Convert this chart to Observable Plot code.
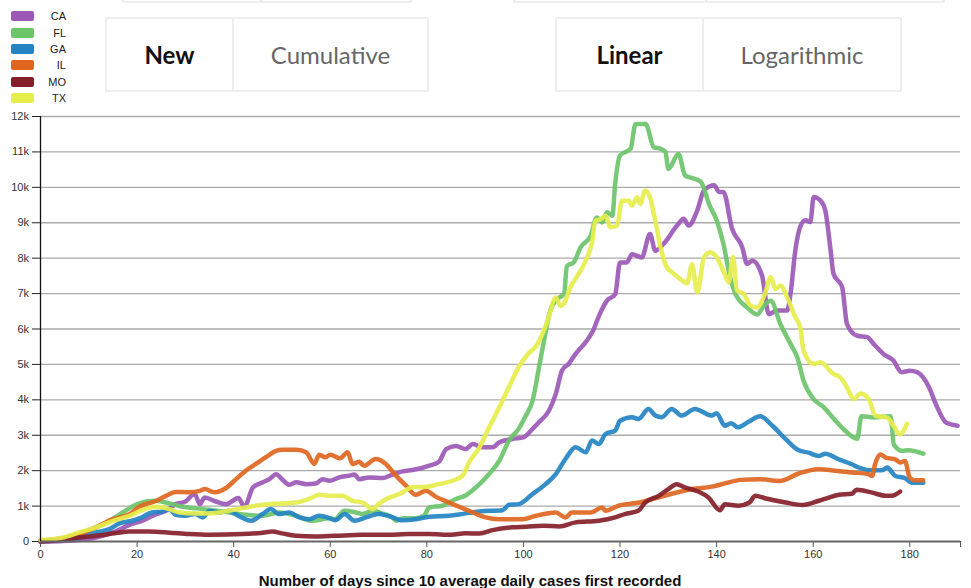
<!DOCTYPE html>
<html>
<head>
<meta charset="utf-8">
<script src="https://cdn.jsdelivr.net/npm/d3@7"></script>
<script src="https://cdn.jsdelivr.net/npm/@observablehq/plot@0.6"></script>
<style>
  html, body { margin: 0; padding: 0; background: #fff; }
  #wrap { position: relative; width: 971px; height: 588px; overflow: hidden; font-family: "Liberation Sans", Arial, sans-serif; }
  #chart { position: absolute; left: 0; top: 0; }
  .legend { position: absolute; left: 11px; top: 8px; font-size: 11px; color: #222; }
  .legend .row { display: flex; align-items: center; height: 16.4px; }
  .legend .sw { width: 23px; height: 10px; border-radius: 2px; }
  .legend .lb { width: 32px; text-align: right; }
  .btns { position: absolute; display: flex; border: 2px solid #eee; box-sizing: border-box; background: #fff; }
  .btns div { display: flex; align-items: center; justify-content: center; font-family: Lato, "Open Sans", sans-serif; font-size: 24px; color: #666; box-sizing: border-box; }
  .btns div.on { font-weight: bold; color: #111; }
  .btns div + div { border-left: 2px solid #eee; }
  .xlabel { position: absolute; top: 572px; left: 0; width: 940px; text-align: center; font-weight: bold; font-size: 15px; line-height: 17px; color: #111; }
</style>
</head>
<body>
<div id="wrap">
  <div id="chart"></div>
  <div class="btns" style="left:122px; top:-40px; width:290px; height:43px;"><div style="width:136px"></div><div style="flex:1"></div></div>
  <div class="btns" style="left:513px; top:-40px; width:432px; height:43px;"><div style="width:190px"></div><div style="flex:1"></div></div>
  <div class="btns" style="left:105px; top:17px; width:324px; height:75px;"><div class="on" style="width:125px">New</div><div style="flex:1">Cumulative</div></div>
  <div class="btns" style="left:555px; top:17px; width:347px; height:75px;"><div class="on" style="width:145px">Linear</div><div style="flex:1">Logarithmic</div></div>
  <div class="legend" id="legend"></div>
  <div class="xlabel">Number of days since 10 average daily cases first recorded</div>
</div>
<script>
const states = ["CA", "FL", "GA", "IL", "MO", "TX"];
const colors = ["#9b59b6", "#6cc46b", "#2484c3", "#e0661f", "#85202a", "#e6ee4c"];
const xTicks = [0, 20, 40, 60, 80, 100, 120, 140, 160, 180];
const xMax = 190.5;
const yTicks = [0, 1000, 2000, 3000, 4000, 5000, 6000, 7000, 8000, 9000, 10000, 11000, 12000];

const CA = [[0,0],[4,10],[8,40],[11.5,110],[15,255],[18.4,470],[21,585],[24,775],[26,870],[28,1055],[30,1130],[31.9,1340],[33,1055],[34,1245],[36.3,1130],[38.4,1055],[41,1225],[42.2,980],[44,1530],[46,1670],[47.4,1760],[48.8,1900],[50,1760],[51.5,1600],[53,1670],[55,1620],[57,1640],[58.4,1760],[59.8,1715],[61.9,1810],[64,1860],[65,1890],[66,1760],[68,1810],[70.8,1790],[72.9,1890],[75,1980],[77,2020],[79,2075],[80.5,2140],[82.5,2250],[84,2610],[86,2700],[88,2610],[89.5,2750],[91.5,2660],[93.6,2660],[95,2800],[97.7,2895],[100,2940],[101.9,3180],[103.2,3365],[105.3,3700],[106.7,4170],[108,4830],[109.4,5020],[110.8,5300],[112.9,5630],[114.4,5950],[115.8,6420],[117.3,6800],[119,6980],[120,7880],[121.4,7880],[122.5,8110],[124.5,8020],[126.2,8680],[127.3,8210],[129,8400],[131.8,8920],[133.2,9110],[134.2,8920],[136,9350],[137.4,9920],[139.5,10060],[140.5,9870],[141.4,9870],[143.2,8830],[145.3,8310],[146.3,7840],[147.4,7930],[149.4,7510],[150.8,6420],[152.5,6520],[154.6,6520],[155.3,6990],[156.3,8220],[157.3,8880],[158.4,9070],[159.4,9020],[160.1,9730],[161.5,9630],[162.5,9350],[163.6,8220],[164.2,7560],[166,7180],[167,6140],[169.1,5810],[171.2,5770],[172.5,5580],[174.6,5290],[176.6,5110],[178.3,4780],[180,4820],[181.5,4780],[184,4350],[185.4,3880],[187.5,3360],[189.9,3270]];

const FL = [[0,20],[4,80],[8,210],[11.5,400],[14.3,585],[17,820],[19.8,1040],[21.9,1130],[24,1150],[26.7,1075],[29.4,980],[32.2,935],[35.7,885],[39,820],[42.5,755],[46,725],[49.4,820],[53,725],[56.3,585],[59.8,660],[61,630],[62.9,870],[65.3,820],[66.7,775],[68.8,870],[70.8,790],[72.9,680],[73.6,585],[75,660],[77.7,660],[79.4,725],[80.5,960],[83.2,1010],[86,1200],[88,1300],[90.9,1620],[92.9,1905],[95,2280],[97,2850],[99,3180],[100.5,3555],[101.9,3980],[103.2,4900],[104.3,5700],[105.5,6500],[107,6850],[108.4,6980],[109,7780],[110.4,7880],[111.8,8300],[113.9,8630],[115.2,9150],[116.3,9010],[117.3,9300],[118.4,9200],[119,10100],[120,10900],[122.2,11090],[123.2,11790],[125.3,11790],[127,11130],[128.4,11090],[129.4,11000],[130,10520],[132.1,10940],[133.5,10330],[134.5,10280],[136.6,10170],[137,10100],[138.4,9540],[140,9070],[141.4,8410],[142.8,7460],[143.9,6990],[146.3,6610],[148.4,6410],[149.8,6660],[151.2,6800],[153.2,6140],[155.3,5580],[156.7,5200],[158,4540],[160.1,4020],[162.2,3790],[164.3,3460],[166.3,3170],[169.1,2900],[170,3540],[172.5,3500],[176,3540],[176.7,2740],[178.4,2560],[179.7,2580],[182.8,2480]];

const GA = [[0,0],[4,40],[8,110],[11.5,255],[14.3,350],[16.3,510],[19,585],[21,680],[23,820],[25,840],[26.7,915],[28,755],[30,725],[32,775],[33.6,680],[35,870],[37,820],[39,870],[41,725],[43.6,585],[46,775],[47.7,915],[49.4,775],[51.5,820],[53.6,680],[55.6,630],[57.7,725],[59.8,660],[61,600],[63,775],[65,585],[67.4,680],[70,775],[72,725],[75,600],[77.7,630],[80.5,700],[84.6,725],[87.5,780],[90.9,850],[95.7,885],[97,1040],[99,1055],[101.9,1340],[104.6,1620],[106.7,1905],[108.7,2330],[110.8,2660],[112.9,2520],[114.2,2850],[115.6,2750],[117,3035],[119,3130],[120,3410],[122.5,3510],[123.8,3460],[125.9,3740],[127.3,3555],[128.6,3510],[130.7,3740],[132.8,3555],[135.5,3740],[139,3555],[140,3620],[141.7,3270],[143,3340],[144.4,3225],[146.6,3380],[149,3540],[151.6,3260],[154.3,2890],[157,2575],[159,2510],[161.2,2415],[162.5,2480],[165.3,2320],[168,2180],[169.4,2090],[172.2,2010],[174.2,2010],[175.3,2090],[177,1850],[179,1790],[180.4,1660],[182.8,1660]];

const IL = [[0,20],[4,80],[8,200],[11.5,400],[15,630],[18.4,770],[20.5,980],[24,1150],[26,1290],[28,1400],[30.8,1390],[33,1430],[34,1480],[36,1390],[38.4,1510],[40.5,1760],[42.5,2000],[44.6,2190],[46.7,2380],[48.8,2560],[50,2590],[53,2590],[55,2520],[56.7,2190],[57.7,2450],[59,2380],[60,2450],[62,2350],[63.6,2520],[64.6,2190],[66,2250],[67,2140],[69.4,2330],[71.5,2190],[73.6,1860],[75.7,1575],[77.7,1320],[79.8,1430],[81.9,1260],[84.6,1100],[86.7,980],[89.5,820],[92.2,680],[95,630],[99.8,630],[102.5,725],[106.7,820],[108.7,680],[110,820],[114,820],[116.3,960],[117,870],[119.7,1010],[124,1100],[128,1245],[132,1390],[135,1480],[139,1550],[141.7,1640],[145,1740],[148.8,1760],[153,1710],[157,1920],[161,2040],[165,1990],[168,1950],[171.5,1900],[172.2,1850],[172.8,2180],[173.9,2460],[175,2370],[177,2320],[178,2230],[179,2270],[180,1800],[181,1730],[182.8,1730]];

const MO = [[0,0],[4,40],[8,110],[11.5,160],[15.7,240],[18.4,280],[22.5,280],[26.7,250],[30.8,210],[35,190],[41.9,210],[46,250],[48,280],[50,230],[52.9,160],[57,140],[61,160],[66.7,190],[72,190],[76,210],[80.5,210],[85,190],[88,230],[90.9,225],[93.6,320],[97.7,400],[100.5,415],[104,445],[107.4,425],[110.8,540],[115.6,585],[119,680],[121,775],[123.8,870],[125.2,1100],[128,1290],[130,1480],[131.7,1620],[133.4,1530],[136.2,1410],[138.3,1245],[140.7,885],[141.7,1055],[144.5,1010],[146.8,1100],[148,1290],[150,1220],[154.3,1100],[157.8,1030],[161.2,1150],[163.2,1240],[165.3,1320],[168,1350],[169,1460],[172.2,1380],[175,1290],[176.3,1290],[178,1410]];

const TX = [[0,40],[4.6,110],[8,255],[11.5,400],[15,585],[18.4,725],[21,885],[24,980],[26.7,915],[28.8,820],[32.2,790],[35.7,800],[39,870],[42.5,960],[46,1040],[50,1075],[53,1100],[55.6,1200],[57.7,1320],[59.8,1290],[62.5,1290],[64.6,1150],[66.7,1100],[68.8,915],[70,1055],[72,1225],[74.3,1340],[77,1530],[79.8,1545],[82.5,1620],[85.3,1715],[87.4,1860],[88.8,2250],[90.9,2660],[92.9,3225],[95,3790],[97,4360],[99,4920],[101,5300],[102.9,5570],[105,6230],[106.7,6890],[107.7,6650],[108.4,6720],[109.7,7170],[111.8,7640],[113.2,8020],[114.2,8440],[114.9,9060],[116,9100],[117,9200],[118,8870],[119.4,8920],[120.4,9620],[121.8,9620],[122.5,9480],[123.5,9720],[124.2,9530],[125.2,9910],[126.2,9720],[127.3,9060],[128.4,8300],[129.7,7740],[130.8,7600],[132.5,7410],[133.9,7290],[134.9,7830],[136,7030],[137.4,8030],[138.7,8170],[140,8030],[141.8,7510],[142.5,7320],[143.4,8030],[144.2,7090],[145.6,6990],[147,6660],[148.4,6610],[150,6990],[151.2,7460],[152.2,7130],[153.2,7230],[154.6,6900],[156.3,6330],[157.3,6050],[158,5390],[160.1,5010],[161.5,5060],[164.2,4730],[165.6,4630],[167,4350],[168.4,4020],[169.8,4180],[171.5,4020],[172.9,3550],[175.3,3500],[176.6,3270],[178,3030],[179.4,3320]];

const series = {CA, FL, GA, IL, MO, TX};
const rows = states.flatMap(s => series[s].map(([day, value]) => ({state: s, day, value})));

// legend
const leg = document.getElementById("legend");
states.forEach((s, i) => {
  const r = document.createElement("div");
  r.className = "row";
  r.innerHTML = `<div class="sw" style="background:${colors[i]}"></div><div class="lb">${s}</div>`;
  leg.appendChild(r);
});

const chart = Plot.plot({
  width: 971,
  height: 588,
  marginLeft: 40,
  marginRight: 11,
  marginTop: 116,
  marginBottom: 47,
  style: {fontFamily: "'Liberation Sans', Arial, sans-serif", fontSize: "11px", color: "#333", background: "transparent"},
  x: {domain: [0, xMax], label: null},
  y: {domain: [0, 12000], label: null},
  color: {domain: states, range: colors},
  marks: [
    Plot.gridY(yTicks.filter(d => d > 0), {stroke: "#aaa", strokeOpacity: 1, strokeWidth: 1.3}),
    Plot.axisY({ticks: yTicks, tickSize: 8, tickPadding: 3.5, tickFormat: d => d === 0 ? "0" : (d / 1000) + "k", label: null, stroke: "#222"}),
    Plot.axisX({ticks: [...xTicks, xMax], tickSize: 6, tickPadding: 3, tickFormat: d => xTicks.includes(d) ? String(d) : "", label: null, stroke: "#555"}),
    Plot.line(rows, {x: "day", y: "value", z: "state", stroke: "state", curve: "monotone-x", strokeWidth: 4.5, strokeOpacity: 0.92, strokeLinejoin: "round", strokeLinecap: "round"}),
    Plot.ruleY([0], {stroke: "#666", strokeWidth: 2}),
    Plot.ruleX([0], {stroke: "#111", strokeWidth: 1.3})
  ]
});
document.getElementById("chart").appendChild(chart);
</script>
</body>
</html>
